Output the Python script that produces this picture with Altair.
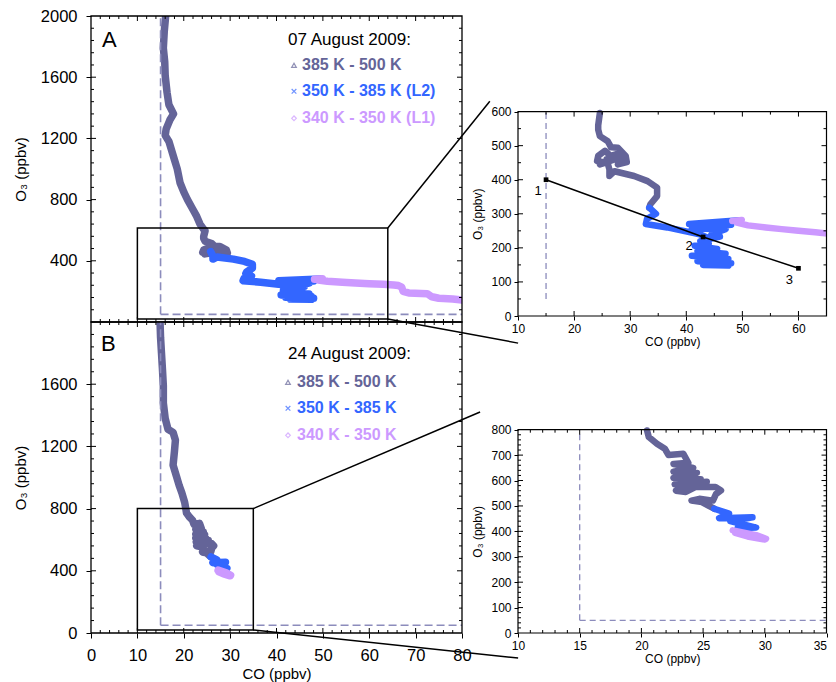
import altair as alt
import pandas as pd

FONT = "Liberation Sans"
C_DARK = "#646498"
C_BLUE = "#3366ff"
C_LAV = "#cc99ff"
C_DASH = "#8c8cbc"
SEGMENTS = ["385 K - 500 K", "350 K - 385 K", "340 K - 350 K"]

# ---------------- 07 August 2009 (panel A) ----------------
A_DARK_CO = [16.1, 15.8, 15.6, 15.9, 16.0, 16.4, 16.8, 17.8, 17.0, 16.2, 16.0, 16.8, 17.4, 18.0, 18.6,
             19.2, 20.0, 20.8, 21.8, 22.8, 23.5, 24.2, 24.6, 24.3, 24.3, 24.6, 26.0, 26.6, 27.8, 29.2,
             29.4, 27.8, 28.6, 26.5, 25.5, 24.3, 24.1, 25.6, 24.6, 27.6, 25.8, 26.3, 26.3, 27.2, 30.7,
             33.1, 34.8, 34.8, 33.6, 33.4]
A_DARK_O3 = [2000, 1900, 1790, 1700, 1610, 1500, 1420, 1360, 1320, 1260, 1220, 1180, 1120, 1060, 1000,
             910, 850, 800, 745, 690, 640, 610, 596, 560, 547, 528, 513, 495, 494, 470,
             452, 445, 480, 470, 485, 470, 455, 450, 445, 462, 460, 430, 411, 425, 411,
             396, 377, 352, 328, 318]
A_BLUE_CO = [33.4, 34.6, 33.0, 32.8, 36.6, 39.5, 42.4, 44.0, 46.0, 42.5, 44.0, 41.5, 45.5, 42.0, 47.0,
             41.0, 47.5, 42.0, 48.0, 43.0, 47.5, 44.0, 43.5, 44.5, 47.0, 41.0, 48.0, 40.5, 49.5]
A_BLUE_O3 = [318, 300, 285, 270, 260, 250, 240, 228, 233, 220, 212, 206, 197, 190, 183,
             177, 167, 161, 155, 150, 148, 170, 200, 240, 255, 257, 268, 270, 281]
A_LAV_CO = [48.2, 49.9, 49.0, 51.0, 54.2, 57.0, 60.0, 63.0, 65.3, 66.3, 67.0, 67.3, 68.5, 72.5, 73.5,
            75.0, 78.0, 80.0]
A_LAV_O3 = [279, 282, 274, 266, 260, 255, 250, 246, 242, 238, 228, 200, 190, 185, 165,
            155, 150, 143]
# in the large panel A the 350-385 K colour already starts at this point of the dark trace
A_MAIN_BLUE_START = 40

# ---------------- 24 August 2009 (panel B) ----------------
B_DARK_CO = [14.9, 15.0, 15.2, 15.4, 15.6, 15.6, 16.0, 16.6, 17.7, 18.2, 18.0, 17.7, 18.4, 19.0, 19.6,
             20.2, 20.46, 20.6, 21.26, 21.9, 22.2, 23.4, 23.8, 22.6, 24.2, 22.6, 24.5, 22.6, 24.8, 22.7,
             25.3, 22.8, 23.6, 24.4, 26.0, 26.45, 26.05, 25.8, 24.7, 24.06, 24.9, 25.9]
B_DARK_O3 = [1990, 1900, 1800, 1700, 1590, 1480, 1380, 1310, 1290, 1240, 1170, 1080, 1010, 950, 900,
             840, 797, 771, 745, 725, 700, 705, 670, 665, 650, 635, 630, 610, 605, 585,
             595, 560, 555, 575, 575, 561, 547, 521, 528, 521, 515, 489]
B_BLUE_CO = [25.9, 27.1, 26.3, 29.0, 27.2, 29.3, 27.8]
B_BLUE_O3 = [489, 470, 452, 455, 440, 415, 412]
B_LAV_CO = [27.4, 29.3, 30.1, 27.6, 28.6, 30.0]
B_LAV_O3 = [404, 385, 371, 394, 380, 368]

# reference (background) values drawn as dashed lines
CO_REF = 15
O3_REF = 50

# mixing line in inset A
MIX_CO = [15, 43, 60]
MIX_O3 = [400, 232, 140]
MIX_LABELS = ["1", "2", "3"]

# zoom boxes [co0, co1, o30, o31]
BOX_A = [10, 64, 20, 615]
BOX_B = [10, 35, 20, 800]

LEGEND_A = ["385 K - 500 K", "350 K - 385 K (L2)", "340 K - 350 K (L1)"]
LEGEND_B = ["385 K - 500 K", "350 K - 385 K", "340 K - 350 K"]
LEG_COLORS = [C_DARK, C_BLUE, C_LAV]
LEG_SHAPES = ["triangle-up", "M-1,-1L1,1M-1,1L1,-1", "diamond"]

COLOR_SCALE = alt.Scale(domain=SEGMENTS, range=[C_DARK, C_BLUE, C_LAV])


def trace_df(parts):
    rows = []
    for seg, (cos, o3s) in zip(SEGMENTS, parts):
        for i, (c, o) in enumerate(zip(cos, o3s)):
            rows.append({"co": c, "o3": o, "seg": seg, "i": i})
    return pd.DataFrame(rows)


def seg_df(rows):
    return pd.DataFrame(rows, columns=["x", "x2", "y", "y2"])


class Frame:
    def __init__(self, xs, ys, xaxis, yaxis):
        self.xs, self.ys, self.xaxis, self.yaxis = xs, ys, xaxis, yaxis

    def X(self, f):
        return alt.X(f, scale=self.xs, axis=self.xaxis)

    def Y(self, f):
        return alt.Y(f, scale=self.ys, axis=self.yaxis)


def segs(df, fr, **mark):
    return alt.Chart(df).mark_rule(**mark).encode(
        x=fr.X("x:Q"), x2="x2:Q", y=fr.Y("y:Q"), y2="y2:Q")


def rect(box, fr, **mark):
    return alt.Chart(seg_df([box])).mark_rect(fillOpacity=0, **mark).encode(
        x=fr.X("x:Q"), x2="x2:Q", y=fr.Y("y:Q"), y2="y2:Q")


def tick_layer(x0, x1, y0, y1, wpx, hpx, xstep, xmaj, ystep, ymaj, fr):
    ux = (x1 - x0) / wpx
    uy = (y1 - y0) / hpx
    rows = []
    v = x0 + xstep
    while v < x1 - 1e-9:
        L = 5 if abs((v - x0) / xmaj - round((v - x0) / xmaj)) < 1e-6 else 3
        rows.append([v, v, y1, y1 - L * uy])
        rows.append([v, v, y0, y0 + L * uy])
        v += xstep
    v = y0 + ystep
    while v < y1 - 1e-9:
        L = 5 if abs((v - y0) / ymaj - round((v - y0) / ymaj)) < 1e-6 else 3
        rows.append([x0, x0 + L * ux, v, v])
        rows.append([x1, x1 - L * ux, v, v])
        v += ystep
    return segs(seg_df(rows), fr, color="black", strokeWidth=1)


def text(px, py, s, color="black", size=16, weight="normal", align="left"):
    return alt.Chart(pd.DataFrame({"t": [s]})).mark_text(
        align=align, baseline="middle", font=FONT, fontSize=size, fontWeight=weight, color=color
    ).encode(x=alt.value(px), y=alt.value(py), text="t:N")


def symbol(px, py, shape, color):
    return alt.Chart(pd.DataFrame({"t": [0]})).mark_point(
        shape=shape, filled=False, size=22, color=color, strokeWidth=1.2
    ).encode(x=alt.value(px), y=alt.value(py))


def traces(df, fr, sw, filt=None):
    base = alt.Chart(df)
    if filt is not None:
        base = base.transform_filter(filt)
    return base.mark_line(strokeWidth=sw, strokeCap="round", strokeJoin="round", clip=True).encode(
        x=fr.X("co:Q"), y=fr.Y("o3:Q"),
        color=alt.Color("seg:N", scale=COLOR_SCALE, legend=None),
        order=alt.Order("i:Q"),
    )


k = A_MAIN_BLUE_START
dfA_main = trace_df([
    (A_DARK_CO[:k + 1], A_DARK_O3[:k + 1]),
    (A_DARK_CO[k:] + A_BLUE_CO, A_DARK_O3[k:] + A_BLUE_O3),
    (A_LAV_CO, A_LAV_O3),
])
dfA = trace_df([(A_DARK_CO, A_DARK_O3), (A_BLUE_CO, A_BLUE_O3), (A_LAV_CO, A_LAV_O3)])
dfB = trace_df([(B_DARK_CO, B_DARK_O3), (B_BLUE_CO, B_BLUE_O3), (B_LAV_CO, B_LAV_O3)])

MAIN_W = 371
HA = 306
HB = 311
INSET_W = 308.5
IA_H = 300
IA_PLOT_H = 204.4
IB_H = 311
IB_PLOT_H = 203.3

y_title = "O\u2083 (ppbv)"


def main_panel(df, H, letter, date, legend, leg_y, sym_x, txt_x, date_y, letter_y, show_x, yvals, connectors):
    xs = alt.Scale(domain=[0, 80], nice=False, zero=False)
    ys = alt.Scale(domain=[0, 2000], nice=False, zero=False)
    if show_x:
        xaxis = alt.Axis(values=list(range(0, 81, 10)), title="CO (ppbv)", tickSize=5, labelPadding=9,
                         labelFontSize=16.5, titleFontSize=15, titlePadding=3, domain=False,
                         labelFlush=False, labelOverlap=False, format="d")
    else:
        xaxis = alt.Axis(values=list(range(0, 81, 10)), labels=False, ticks=False, domain=False, title="")
    yaxis = alt.Axis(values=yvals, title=y_title, tickSize=5, labelPadding=9, labelFontSize=16.5,
                     titleFontSize=15, titlePadding=12, domain=False, labelOverlap=False, format="d")
    fr = Frame(xs, ys, xaxis, yaxis)
    layers = [
        traces(df, fr, 7.5),
        segs(seg_df([[CO_REF, CO_REF, O3_REF, 2000], [CO_REF, 80, O3_REF, O3_REF]]), fr,
             color=C_DASH, strokeWidth=1.6, strokeDash=[8, 4]),
        rect([0, 80, 0, 2000], fr, stroke="black", strokeWidth=1.3),
        tick_layer(0, 80, 0, 2000, MAIN_W, H, 2, 10, 80, 400, fr),
        rect(connectors["box"], fr, stroke="black", strokeWidth=1.5),
        segs(seg_df(connectors["lines"]), fr, color="black", strokeWidth=1.5, clip=False),
        text(11 if letter == "A" else 10, letter_y, letter, size=22),
        text(197, date_y, date, size=17),
    ]
    for j in range(3):
        layers.append(symbol(sym_x, leg_y[j], LEG_SHAPES[j], LEG_COLORS[j]))
        layers.append(text(txt_x, leg_y[j], legend[j], color=LEG_COLORS[j], size=16, weight="bold"))
    return alt.layer(*layers).properties(width=MAIN_W, height=H)


A = main_panel(
    dfA_main, HA, "A", "07 August 2009:", LEGEND_A, [49.3, 75.3, 102.3], 203, 211, 23.5, 23.5, False,
    [400, 800, 1200, 1600, 2000],
    {"box": [BOX_A[0], BOX_A[1], BOX_A[2], BOX_A[3]],
     "lines": [[BOX_A[1], 86.0, BOX_A[3], 1443], [BOX_A[1], 92.1, BOX_A[2], -138]]},
)
B = main_panel(
    dfB, HB, "B", "24 August 2009:", LEGEND_B, [60.3, 86.3, 113.3], 197, 206, 32.3, 21.5, True,
    [0, 400, 800, 1200, 1600],
    {"box": [BOX_B[0], BOX_B[1], BOX_B[2], BOX_B[3]],
     "lines": [[BOX_B[1], 83.9, BOX_B[3], 1421], [BOX_B[1], 92.1, BOX_B[2], -161]]},
)


def inset(df, x1, ytop, cell_h, plot_h, xvals, xstep, ystep, dash_h, extra):
    ymax = ytop * cell_h / plot_h
    xs = alt.Scale(domain=[10, x1], nice=False, zero=False)
    ys = alt.Scale(domain=[0, ymax], nice=False, zero=False)
    last = xvals[-1]
    xaxis = alt.Axis(values=xvals, title="CO (ppbv)", tickSize=4, labelPadding=3, labelFontSize=12,
                     titleFontSize=12, titlePadding=2, domain=False, labelFlush=False, labelOverlap=False,
                     labelAlign=alt.ConditionalAxisLabelAlign(
                         condition={"test": f"datum.value == {x1} && {last} == {x1}", "value": "right"},
                         value="center"))
    yaxis = alt.Axis(values=list(range(0, ytop + 1, 100)), title=y_title, tickSize=4, labelPadding=3,
                     labelFontSize=12, titleFontSize=12, titlePadding=6, domain=False,
                     labelOverlap=False, labelSeparation=0, titleY=cell_h - plot_h / 2)
    fr = Frame(xs, ys, xaxis, yaxis)
    dash_rows = [[CO_REF, CO_REF, O3_REF, ytop]]
    if dash_h:
        dash_rows.append([CO_REF, x1, O3_REF, O3_REF])
    layers = [
        traces(df, fr, 6.5, filt=alt.datum.o3 <= ytop),
        segs(seg_df(dash_rows), fr, color=C_DASH, strokeWidth=1.3, strokeDash=[6, 4]),
        rect([10, x1, 0, ytop], fr, stroke="black", strokeWidth=1.2),
        tick_layer(10, x1, 0, ytop, INSET_W, plot_h, xstep, xvals[1] - xvals[0], ystep, 100, fr),
    ]
    layers += extra(fr)
    return alt.layer(*layers).properties(width=INSET_W, height=cell_h)


def mixing(fr):
    mdf = pd.DataFrame({"co": MIX_CO, "o3": MIX_O3, "lab": MIX_LABELS})
    enc = dict(x=fr.X("co:Q"), y=fr.Y("o3:Q"))
    out = [
        alt.Chart(mdf).mark_line(color="black", strokeWidth=1.5).encode(**enc),
        alt.Chart(mdf).mark_square(color="black", size=22, opacity=1).encode(**enc),
    ]
    offs = [(-8, 11), (-14, 9), (-9, 12)]
    for j, (dx, dy) in enumerate(offs):
        out.append(alt.Chart(mdf.iloc[[j]]).mark_text(font=FONT, fontSize=13, dx=dx, dy=dy, color="black")
                   .encode(text="lab:N", **enc))
    return out


IA = inset(dfA, 65, 600, IA_H, IA_PLOT_H, [10, 20, 30, 40, 50, 60], 5, 50, False, mixing)
IB = inset(dfB, 35, 800, IB_H, IB_PLOT_H, [10, 15, 20, 25, 30, 35], 1, 20, True, lambda fr: [])

chart = alt.concat(
    A, IA, B, IB, columns=2, spacing={"row": 0, "column": 56}, bounds="flush"
).properties(
    padding={"left": 5, "top": 0, "right": 0, "bottom": 0}
).configure_view(
    strokeWidth=0
).configure_axis(
    labelFont=FONT, titleFont=FONT, labelColor="black", titleColor="black", tickColor="black",
    domainColor="black", titleFontWeight="normal", grid=False, labelOverlap=False
)

chart.save("out.html", embed_options={"renderer": "svg", "actions": False})
